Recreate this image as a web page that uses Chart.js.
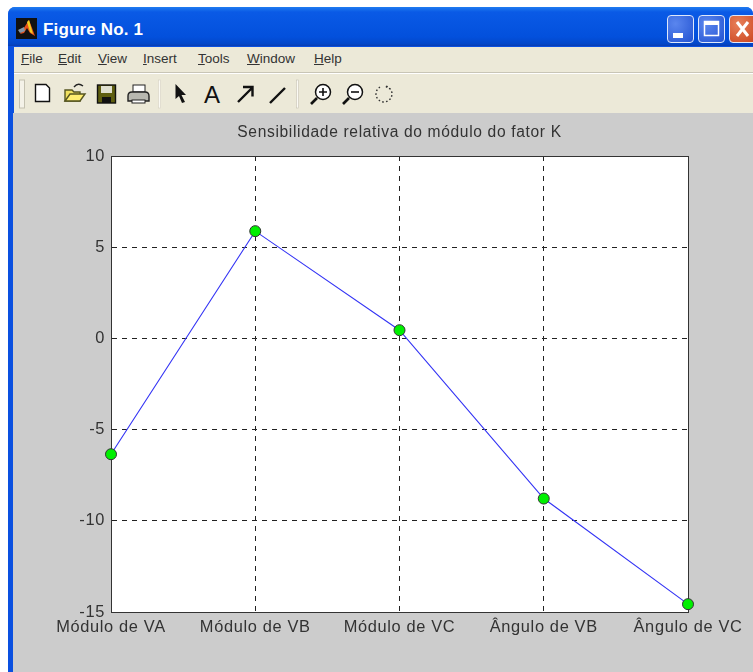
<!DOCTYPE html>
<html>
<head>
<meta charset="utf-8">
<title>Figure No. 1</title>
<script src="https://cdn.jsdelivr.net/npm/chart.js@4"></script>
<style>
  html, body { margin: 0; padding: 0; background: #fff; }
  #page { position: relative; width: 753px; height: 672px; overflow: hidden; font-family: "Liberation Sans", sans-serif; }
  #frame { position: absolute; left: 8px; top: 7px; width: 745px; height: 665px; background: #0a50e0; border-radius: 7px 7px 0 0; }
  #titlebar { position: absolute; left: 8px; top: 7px; width: 745px; height: 39px; border-radius: 7px 7px 0 0;
    background: linear-gradient(#1f7cf0 0, #0a5ae6 5px, #0350dc 30px, #0346c8 37px, #0a3cb0 39px); }
  #titletext { position: absolute; left: 43px; top: 20px; color: #fff; font-weight: bold; font-size: 17px; letter-spacing: .15px; }
  #menubar { position: absolute; left: 14px; top: 47px; width: 739px; height: 25px; background: #ece9d8; border-bottom: 1px solid #c8c5b6; box-shadow: 0 1px 0 #fff; }
  #toolbar { position: absolute; left: 14px; top: 74px; width: 739px; height: 39px; background: #ece9d8; }
  #figure { position: absolute; left: 13px; top: 113px; width: 740px; height: 559px; background: #cccccc; }
  .menu { position: absolute; top: 51px; font-size: 13.5px; color: #333; }
  .btn { position: absolute; top: 15px; width: 27px; height: 28px; border: 1px solid #dfe8fb; border-radius: 4px; box-sizing: border-box;
    background: radial-gradient(circle at 30% 30%, #5a86ee, #2353d2); }
  #chartbox { position: absolute; left: 0; top: 0; width: 753px; height: 672px; }
  svg { position: absolute; left: 0; top: 0; }
</style>
</head>
<body>
<div id="page">
  <div id="frame"></div>
  <div id="titlebar"></div>
  <div id="titletext">Figure No. 1</div>
  <div id="menubar"></div>
  <div id="toolbar"></div>
  <div id="figure"></div>
  <span class="menu" style="left:21px"><u>F</u>ile</span>
  <span class="menu" style="left:58px"><u>E</u>dit</span>
  <span class="menu" style="left:98px"><u>V</u>iew</span>
  <span class="menu" style="left:143px"><u>I</u>nsert</span>
  <span class="menu" style="left:198px"><u>T</u>ools</span>
  <span class="menu" style="left:247px"><u>W</u>indow</span>
  <span class="menu" style="left:314px"><u>H</u>elp</span>
  <div class="btn" style="left:667px"></div>
  <div class="btn" style="left:698px"></div>
  <div class="btn" style="left:729px;width:30px;background:radial-gradient(circle at 30% 30%,#e8805a,#c8401a)"></div>
  <!-- window chrome icons -->
  <svg width="753" height="672" viewBox="0 0 753 672">
    <rect x="16" y="18" width="21" height="21" fill="#111"/>
    <path d="M20 34 L29 20 L35 36 L30 33 L27 28 L24 33Z" fill="#e8501a"/>
    <path d="M27 22 L30 32 L33 34 L29 20Z" fill="#f0d020"/>
    <path d="M18 30 L24 27 L25 31 L20 33Z" fill="#8898a8"/>
    <rect x="673" y="33" width="10" height="5" fill="#fff"/>
    <rect x="704.5" y="21.5" width="14" height="14" fill="none" stroke="#fff" stroke-width="1.5"/>
    <rect x="704" y="21" width="15" height="4" fill="#fff"/>
    <path d="M737 22 L748 36 M748 22 L737 36" stroke="#fff" stroke-width="3"/>

    <rect x="19.5" y="80" width="5" height="28" fill="#f4f2e8" stroke="#c4c1b0"/>
    <path d="M35.5 84.5 H46 L49.5 88 V101.5 H35.5Z" fill="#fff" stroke="#111" stroke-width="1.4"/>
    <path d="M65 90 H72 L74 92 H80 V101 H65Z" fill="#f0e060" stroke="#555520" stroke-width="1.4"/>
    <path d="M65 101 L70 94 H85 L80 101Z" fill="#ffee70" stroke="#555520" stroke-width="1.4"/>
    <path d="M74 87 Q78 82 83 86" fill="none" stroke="#222" stroke-width="1.4"/>
    <rect x="97.5" y="85" width="18" height="18" fill="#5e5e10" stroke="#111" stroke-width="1.4"/>
    <rect x="101" y="86" width="11" height="7" fill="#e0e0d0"/>
    <rect x="102" y="97" width="9" height="6" fill="#111"/>
    <rect x="133" y="85" width="12" height="7" fill="#fff" stroke="#222"/>
    <path d="M128 96 Q128 92 132 92 H145 Q149 92 149 96 V101 H128Z" fill="#b8b8b0" stroke="#222" stroke-width="1.4"/>
    <rect x="132" y="100" width="13" height="3" fill="#fff" stroke="#222"/>
    <rect x="158.5" y="80" width="2" height="28" fill="#fbfaf4" stroke="#cfccbc" stroke-width=".5"/>
    <path d="M175.5 84 L186 95 H181.5 L185 102 L182 103 L179 96 L175.5 99Z" fill="#111"/>
    <text x="204" y="103" font-family="Liberation Sans" font-size="24" fill="#111">A</text>
    <path d="M238 102 L252 88 M243 87 H252.5 V96.5" fill="none" stroke="#111" stroke-width="2.4"/>
    <path d="M270 103 L285 88" stroke="#111" stroke-width="2.4"/>
    <rect x="296.5" y="80" width="2" height="28" fill="#fbfaf4" stroke="#bdbaa9" stroke-width=".5"/>
    <circle cx="323" cy="92" r="7.5" fill="#fff" stroke="#111" stroke-width="1.5"/>
    <path d="M317 98 L311 104" stroke="#111" stroke-width="2.6"/>
    <path d="M319 92 H327 M323 88 V96" stroke="#111" stroke-width="1.6"/>
    <circle cx="355" cy="92" r="7.5" fill="#fff" stroke="#111" stroke-width="1.5"/>
    <path d="M349 98 L343 104" stroke="#111" stroke-width="2.6"/>
    <path d="M351 92 H359" stroke="#111" stroke-width="1.6"/>
    <path d="M380 87 A8 8 0 1 0 385 86 L390 89" fill="none" stroke="#333" stroke-width="1.4" stroke-dasharray="1.6 2.2"/>
  </svg>
  <div id="chartbox"><canvas id="chart" width="753" height="672"></canvas></div>
</div>
<script>
const chartTitle = 'Sensibilidade relativa do módulo do fator K';
const categories = ['Módulo de VA', 'Módulo de VB', 'Módulo de VC', 'Ângulo de VB', 'Ângulo de VC'];
const sensibilidade = [-6.35, 5.88, 0.45, -8.78, -14.57];
const yTicks = [10, 5, 0, -5, -10, -15];

// White axes with a closed box, MATLAB style. The old Helvetica is also wider, hence the spacing.
const axesBox = {
    id: 'axesBox',
    beforeLayout(chart) { chart.ctx.letterSpacing = '0.65px'; },
    beforeDraw(chart) {
        const { ctx, chartArea: a } = chart;
        ctx.letterSpacing = '0.65px';
        ctx.fillStyle = '#fff';
        ctx.fillRect(a.left, a.top, a.right - a.left, a.bottom - a.top);
    },
    beforeDatasetsDraw(chart) {
        const { ctx, chartArea: a } = chart;
        ctx.save();
        ctx.strokeStyle = '#333';
        ctx.lineWidth = 1;
        ctx.strokeRect(Math.round(a.left) + 0.5, Math.round(a.top) + 0.5, Math.round(a.right - a.left), Math.round(a.bottom - a.top));
        ctx.restore();
    },
};

const tickFont = { family: '"Liberation Sans"', size: 16.4 };
const titleSize = 15.6;

new Chart(document.getElementById('chart'), {
    type: 'line',
    data: {
        labels: categories,
        datasets: [{
            data: sensibilidade,
            borderColor: '#3333f5',
            borderWidth: 1.1,
            tension: 0,
            clip: false,
            pointRadius: 5.5,
            pointHoverRadius: 5.5,
            pointBackgroundColor: '#00f000',
            pointBorderColor: '#333',
            pointBorderWidth: 1,
        }],
    },
    plugins: [axesBox],
    options: {
        responsive: false,
        animation: false,
        layout: { padding: { left: 0, right: 65, top: 123, bottom: 0 } },
        plugins: {
            legend: { display: false },
            tooltip: { enabled: false },
            title: {
                display: true,
                fullSize: false,
                text: chartTitle,
                color: '#333',
                font: { family: '"Liberation Sans"', size: titleSize, weight: 'normal', lineHeight: 1.25 },
                padding: { top: 0, bottom: 33 - titleSize * 1.25 },
            },
        },
        scales: {
            x: {
                offset: false,
                afterFit: s => { s.height = 60; },
                border: { color: '#333', dash: [5, 5] },
                grid: { color: '#222', tickLength: 0 },
                ticks: { color: '#333', font: tickFont, padding: 6, maxRotation: 0, minRotation: 0, autoSkip: false },
            },
            y: {
                min: -15,
                max: 10,
                afterFit: s => { s.width = 111; },
                afterBuildTicks: s => { s.ticks = yTicks.map(value => ({ value })); },
                border: { color: '#333', dash: [5, 5] },
                grid: { color: '#222', tickLength: 0 },
                ticks: { color: '#333', font: tickFont, padding: 6 },
            },
        },
    },
});
</script>
</body>
</html>
